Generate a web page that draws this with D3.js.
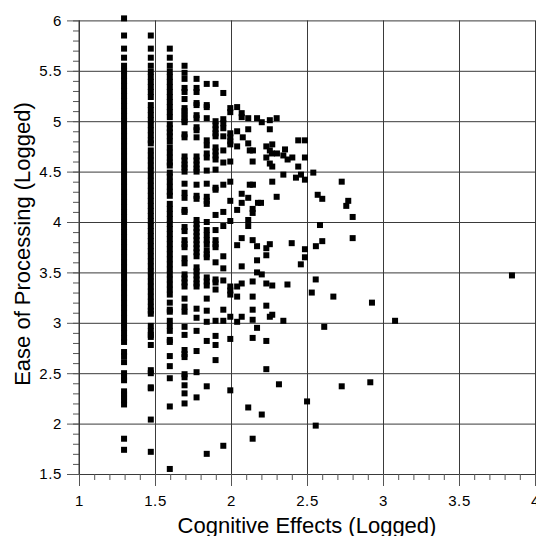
<!DOCTYPE html>
<html>
<head>
<meta charset="utf-8">
<script src="https://cdn.jsdelivr.net/npm/d3@7"></script>
<style>
  html, body { margin: 0; padding: 0; background: #fff; }
  svg { display: block; font-family: "Liberation Sans", Arial, sans-serif; }
</style>
</head>
<body>
<svg id="chart" width="536" height="536"></svg>
<script>
// ---- Data ----
const xTicks = [1, 1.5, 2, 2.5, 3, 3.5, 4];
const xTickLabels = ["1", "1.5", "2", "2.5", "3", "3.5", "4"];
const yTicks = [1.5, 2, 2.5, 3, 3.5, 4, 4.5, 5, 5.5, 6];
const yTickLabels = ["1.5", "2", "2.5", "3", "3.5", "4", "4.5", "5", "5.5", "6"];
const xTitle = "Cognitive Effects (Logged)";
const yTitle = "Ease of Processing (Logged)";

// discrete columns (x positions) and their y values
const columnX = [1.301, 1.477, 1.602, 1.699, 1.778, 1.845, 1.903, 1.954, 2.0];
const col1 = [6.02, 5.85, 5.72, 5.63, 5.55, 5.50, 5.45, 5.40, 5.35, 5.30, 5.25, 5.20, 5.15, 5.10, 5.05, 5.00,
  4.95, 4.90, 4.85, 4.80, 4.75, 4.70, 4.65, 4.60, 4.55, 4.50, 4.45, 4.40, 4.35, 4.30, 4.25, 4.20, 4.15,
  4.10, 4.05, 4.00, 3.95, 3.90, 3.85, 3.80, 3.75, 3.70, 3.65, 3.60, 3.55, 3.50, 3.45, 3.40, 3.35, 3.30,
  3.25, 3.20, 3.15, 3.10, 3.05, 3.00, 2.95, 2.90, 2.85, 2.81, 2.71, 2.67, 2.61, 2.50, 2.46, 2.43, 2.32,
  2.29, 2.26, 2.23, 2.19, 1.85, 1.74];
const col2 = [5.85, 5.72, 5.63, 5.55, 5.49, 5.44, 5.39, 5.34, 5.29, 5.24, 5.16, 5.11, 5.06, 5.01, 4.96,
  4.91, 4.86, 4.81, 4.78, 4.71, 4.66, 4.61, 4.56, 4.51, 4.46, 4.41, 4.36, 4.31, 4.26, 4.21, 4.16, 4.11,
  4.06, 4.01, 3.96, 3.91, 3.86, 3.81, 3.76, 3.71, 3.66, 3.61, 3.56, 3.51, 3.46, 3.41, 3.36, 3.31, 3.26,
  3.21, 3.16, 3.12, 3.09, 2.97, 2.92, 2.88, 2.86, 2.78, 2.53, 2.50, 2.36, 2.35, 2.04, 1.72];
const col3 = [5.72, 5.63, 5.55, 5.49, 5.44, 5.39, 5.34, 5.29, 5.24, 5.19, 5.14, 5.09, 5.04, 4.97, 4.93,
  4.89, 4.85, 4.80, 4.74, 4.69, 4.64, 4.59, 4.56, 4.49, 4.45, 4.40, 4.35, 4.30, 4.26, 4.18, 4.13, 4.08,
  4.03, 3.98, 3.93, 3.88, 3.83, 3.78, 3.73, 3.68, 3.63, 3.58, 3.53, 3.48, 3.43, 3.38, 3.33, 3.28, 3.20,
  3.13, 3.11, 3.02, 2.97, 2.92, 2.83, 2.81, 2.67, 2.57, 2.45, 2.17, 1.55];
const col4 = [5.55, 5.48, 5.42, 5.33, 5.29, 5.22, 5.13, 5.10, 5.07, 5.04, 5.01, 4.99, 4.87, 4.84, 4.65,
  4.61, 4.57, 4.54, 4.50, 4.38, 4.29, 4.24, 4.12, 4.10, 3.95, 3.91, 3.82, 3.78, 3.75, 3.64, 3.59, 3.48,
  3.44, 3.40, 3.36, 3.24, 3.16, 3.11, 2.96, 2.88, 2.73, 2.69, 2.66, 2.49, 2.46, 2.38, 2.30, 2.20];
const col5 = [5.42, 5.33, 5.29, 5.18, 5.16, 5.06, 5.03, 4.94, 4.91, 4.84, 4.65, 4.61, 4.57, 4.53, 4.50,
  4.37, 4.26, 4.23, 4.02, 3.98, 3.94, 3.90, 3.86, 3.82, 3.78, 3.74, 3.70, 3.66, 3.55, 3.51, 3.47, 3.43,
  3.39, 3.36, 3.14, 3.05, 2.92, 2.72, 2.51, 2.26];
const col6 = [5.37, 5.16, 5.14, 5.03, 4.81, 4.76, 4.68, 4.64, 4.51, 4.38, 4.25, 4.21, 4.18, 4.00, 3.92,
  3.87, 3.82, 3.78, 3.72, 3.68, 3.65, 3.45, 3.41, 3.37, 3.24, 3.12, 3.01, 2.82, 2.37, 1.70];
const col7 = [5.37, 5.00, 4.96, 4.92, 4.88, 4.85, 4.74, 4.70, 4.66, 4.62, 4.52, 4.34, 4.32, 4.07, 3.92,
  3.82, 3.78, 3.75, 3.60, 3.43, 3.40, 3.33, 3.02, 2.87, 2.78, 2.63];
const col8 = [5.28, 5.02, 4.98, 4.93, 4.85, 4.71, 4.59, 4.37, 4.10, 3.96, 3.66, 3.54, 3.42, 3.13, 3.02, 1.78];
const col9 = [5.13, 5.09, 4.88, 4.84, 4.80, 4.77, 4.60, 4.40, 4.21, 4.01, 3.36, 3.32, 3.28, 3.06, 2.84, 2.33];
const columnY = [col1, col2, col3, col4, col5, col6, col7, col8, col9];

// scattered points beyond x = 2
const scatterX = [2.045, 2.075, 2.075, 2.118, 2.176, 2.207, 2.26, 2.305, 2.045, 2.118, 2.26, 2.082, 2.447,
  2.491, 2.118, 2.045, 2.237, 2.276, 2.26, 2.274, 2.307, 2.36, 2.349, 2.377, 2.408, 2.491, 2.237, 2.26,
  2.276, 2.447, 2.546, 2.349, 2.432, 2.465, 2.491, 2.276, 2.733, 2.128, 2.149, 2.147, 2.128, 2.149, 2.075,
  2.118, 2.182, 2.202, 2.147, 2.147, 2.045, 2.075, 2.305, 2.575, 2.605, 2.776, 2.763, 2.805, 2.118, 2.118,
  2.59, 2.075, 2.147, 2.045, 2.176, 2.237, 2.26, 2.404, 2.563, 2.605, 2.805, 2.491, 2.237, 2.491, 2.464,
  2.176, 2.075, 2.176, 2.207, 2.237, 2.147, 2.045, 2.075, 2.276, 2.376, 2.045, 2.147, 2.237, 2.147, 2.147,
  2.075, 2.045, 2.26, 2.276, 2.349, 2.176, 2.147, 2.237, 2.536, 2.562, 2.618, 2.678, 2.733, 2.921, 2.932,
  3.084, 3.853, 2.505, 2.562, 2.32, 2.237, 2.207, 2.147, 2.118];
const scatterY = [5.14, 5.08, 5.04, 5.03, 5.03, 4.99, 5.01, 5.03, 4.90, 4.92, 4.92, 4.84, 4.81,
  4.81, 4.78, 4.75, 4.75, 4.77, 4.71, 4.68, 4.68, 4.72, 4.66, 4.62, 4.64, 4.64, 4.64, 4.58,
  4.55, 4.55, 4.49, 4.47, 4.44, 4.47, 4.42, 4.40, 4.40, 4.71, 4.71, 4.60, 4.37, 4.37, 4.28,
  4.24, 4.19, 4.19, 4.13, 4.09, 4.12, 4.19, 4.25, 4.27, 4.23, 4.21, 4.16, 4.05, 4.02, 3.96,
  3.97, 3.84, 3.82, 3.77, 3.76, 3.74, 3.78, 3.79, 3.76, 3.81, 3.84, 3.73, 3.67, 3.65, 3.58,
  3.62, 3.56, 3.50, 3.48, 3.39, 3.41, 3.36, 3.39, 3.37, 3.38, 3.26, 3.26, 3.17, 3.13, 3.03,
  3.06, 3.01, 3.06, 3.08, 3.02, 2.95, 2.85, 2.82, 3.30, 3.43, 2.96, 3.26, 2.37, 2.41, 3.20,
  3.02, 3.47, 2.22, 1.98, 2.39, 2.54, 2.09, 1.85, 2.16];

// ---- Build point table ----
const points = [];
columnX.forEach((cx, i) => columnY[i].forEach(v => points.push({ x: cx, y: v })));
scatterX.forEach((sx, i) => points.push({ x: sx, y: scatterY[i] }));

// ---- Layout ----
const svg = d3.select("#chart");
const mLeft = 79, mRight = 535, mTop = 20.4, mBottom = 474;
const xs = d3.scaleLinear().domain([1, 4]).range([mLeft, mRight]);
const ys = d3.scaleLinear().domain([1.5, 6]).range([mBottom, mTop]);
const gridColor = "#3a3a3a";
const tickColor = "#555";
const labelFont = "'Liberation Sans', Arial, sans-serif";

// gridlines
svg.append("g")
  .attr("transform", `translate(0,${mBottom})`)
  .call(d3.axisBottom(xs).tickValues(xTicks).tickSize(-(mBottom - mTop)).tickFormat(""))
  .call(g => g.select(".domain").remove())
  .call(g => g.selectAll("line").attr("stroke", gridColor).attr("stroke-width", 1));
svg.append("g")
  .attr("transform", `translate(${mLeft},0)`)
  .call(d3.axisLeft(ys).tickValues(yTicks).tickSize(-(mRight - mLeft)).tickFormat(""))
  .call(g => g.select(".domain").remove())
  .call(g => g.selectAll("line").attr("stroke", gridColor).attr("stroke-width", 1));

// minor ticks
svg.append("g")
  .attr("transform", `translate(0,${mBottom})`)
  .call(d3.axisBottom(xs).tickValues(xs.ticks(30)).tickSize(6).tickFormat(""))
  .call(g => g.select(".domain").remove())
  .call(g => g.selectAll("line").attr("stroke", tickColor));
svg.append("g")
  .attr("transform", `translate(${mLeft},0)`)
  .call(d3.axisLeft(ys).tickValues(ys.ticks(45)).tickSize(6).tickFormat(""))
  .call(g => g.select(".domain").remove())
  .call(g => g.selectAll("line").attr("stroke", tickColor));

// major ticks + labels
svg.append("g")
  .attr("transform", `translate(0,${mBottom})`)
  .call(d3.axisBottom(xs).tickValues(xTicks).tickSize(12).tickPadding(9)
    .tickFormat((d, i) => xTickLabels[i]))
  .call(g => g.select(".domain").remove())
  .call(g => g.selectAll("line").attr("stroke", tickColor))
  .call(g => g.selectAll("text").attr("fill", "#000").style("font-size", "15px")
    .style("letter-spacing", "0.6px").style("font-family", labelFont));
svg.append("g")
  .attr("transform", `translate(${mLeft},0)`)
  .call(d3.axisLeft(ys).tickValues(yTicks).tickSize(12).tickPadding(5)
    .tickFormat((d, i) => yTickLabels[i]))
  .call(g => g.select(".domain").attr("stroke", gridColor).attr("d", `M0,${mBottom}V${mTop}`))
  .call(g => g.selectAll("line").attr("stroke", tickColor))
  .call(g => g.selectAll("text").attr("fill", "#000").style("font-size", "15px")
    .style("letter-spacing", "0.6px").style("font-family", labelFont));

// points (square markers)
const s = 6;
svg.append("g")
  .selectAll("rect")
  .data(points)
  .join("rect")
  .attr("x", d => xs(d.x) - s / 2 - 0.7)
  .attr("y", d => ys(d.y) - s / 2)
  .attr("width", s)
  .attr("height", s)
  .attr("fill", "#000");

// axis titles
svg.append("text")
  .attr("x", (mLeft + mRight) / 2)
  .attr("y", 532.5)
  .attr("text-anchor", "middle")
  .style("font-size", "22px")
  .style("font-family", labelFont)
  .attr("fill", "#000")
  .text(xTitle);
svg.append("text")
  .attr("transform", `translate(29.5,244) rotate(-90)`)
  .attr("text-anchor", "middle")
  .style("font-size", "22px")
  .style("font-family", labelFont)
  .attr("fill", "#000")
  .text(yTitle);
</script>
</body>
</html>
